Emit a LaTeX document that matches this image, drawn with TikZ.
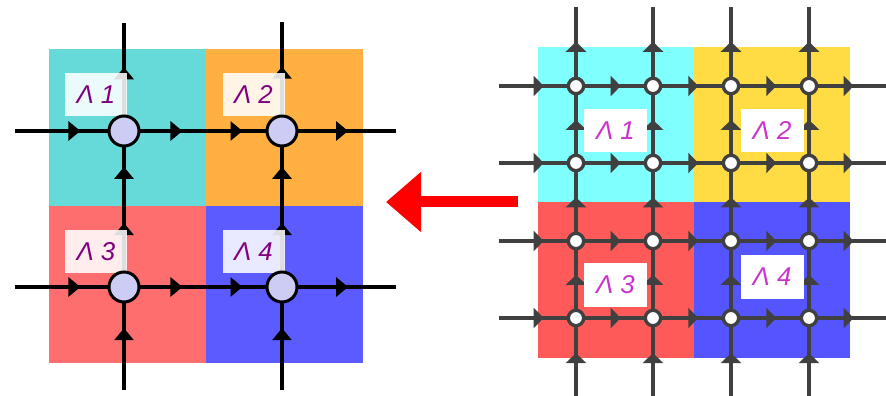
\documentclass[tikz,border=0pt]{standalone}
\usepackage{fontspec}
\setmainfont{Liberation Sans}
\usetikzlibrary{arrows.meta,decorations.markings}

\definecolor{lcyan}{HTML}{66D9D9}
\definecolor{lorange}{HTML}{FFB040}
\definecolor{lred}{HTML}{FF6E6E}
\definecolor{lblue}{HTML}{5B5BFF}
\definecolor{rcyan}{HTML}{80FFFF}
\definecolor{ryellow}{HTML}{FFDB44}
\definecolor{rred}{HTML}{FF5A5A}
\definecolor{rblue}{HTML}{5555FF}
\definecolor{wire}{HTML}{404040}
\definecolor{lampurple}{HTML}{800080}
\definecolor{lammagenta}{HTML}{CC33CC}
\definecolor{sitefill}{HTML}{CCCCF5}

\tikzset{
  tipL/.tip={Triangle[length=3.6mm,width=5.7mm]},
  tipR/.tip={Triangle[length=3mm,width=6mm]},
  flowL/.style={postaction={decorate,decoration={markings,mark=at position #1 with {\arrow{tipL}}}}},
  flowR/.style={postaction={decorate,decoration={markings,mark=at position #1 with {\arrow{tipR}}}}},
  coarse/.style={line width=1.05mm,black},
  fine/.style={line width=1.2mm,wire},
  siteL/.style={circle,draw=black,line width=0.9mm,fill=sitefill,minimum size=9mm,inner sep=0pt},
  siteR/.style={circle,draw=wire,line width=1mm,fill=white,minimum size=4.6mm,inner sep=0pt},
  labL/.style={fill=white,fill opacity=0.87,text opacity=1,text=lampurple,minimum width=18.6mm,minimum height=12.9mm,inner sep=0pt,font=\fontsize{22}{22}\selectfont\itshape},
  labR/.style={fill=white,text=lammagenta,minimum width=18.9mm,minimum height=12.9mm,inner sep=0pt,font=\fontsize{22}{22}\selectfont\itshape}
}

\begin{document}
\begin{tikzpicture}[x=0.3mm,y=-0.3mm]
\useasboundingbox (0,0) rectangle (886,396);

% coarse lattice, one site per block
\fill[lcyan] (49,49) rectangle (206,206);
\fill[lorange] (206,49) rectangle (363,206);
\fill[lred] (49,206) rectangle (206,363);
\fill[lblue] (206,206) rectangle (363,363);

\foreach \n/\x/\y in {1/124/131,2/282/131,3/124/287,4/282/287}
  \coordinate (c\n) at (\x,\y);
\coordinate (w1) at (15,131); \coordinate (e1) at (396,131);
\coordinate (w2) at (15,287); \coordinate (e2) at (396,287);
\coordinate (s1) at (124,390); \coordinate (n1) at (124,23);
\coordinate (s2) at (282,390); \coordinate (n2) at (282,22);

\draw[coarse,flowL=0.6] (w1) -- (c1);
\draw[coarse,flowL=0.37,flowL=0.75] (c1) -- (c2);
\draw[coarse,flowL=0.58] (c2) -- (e1);
\draw[coarse,flowL=0.6] (w2) -- (c3);
\draw[coarse,flowL=0.37,flowL=0.75] (c3) -- (c4);
\draw[coarse,flowL=0.58] (c4) -- (e2);
\draw[coarse,flowL=0.6] (s1) -- (c3);
\draw[coarse,flowL=0.41,flowL=0.77] (c3) -- (c1);
\draw[coarse,flowL=0.59] (c1) -- (n1);
\draw[coarse,flowL=0.6] (s2) -- (c4);
\draw[coarse,flowL=0.41,flowL=0.77] (c4) -- (c2);
\draw[coarse,flowL=0.59] (c2) -- (n2);

\node[labL] (lam1) at (96,94.5) {Λ 1};
\node[labL] (lam2) at (253.5,94.5) {Λ 2};
\node[labL] (lam3) at (96,251.5) {Λ 3};
\node[labL] (lam4) at (253.5,251.5) {Λ 4};

\foreach \n in {1,...,4}
  \node[siteL] (site\n) at (c\n) {};

% fine lattice, 4x4 sites
\fill[rcyan] (538,47) rectangle (694,202);
\fill[ryellow] (694,47) rectangle (850,202);
\fill[rred] (538,202) rectangle (694,358);
\fill[rblue] (694,202) rectangle (850,358);

\foreach \i/\x in {0/576,1/653,2/731,3/809}
  \foreach \j/\y in {0/86,1/163,2/241,3/318}
    \coordinate (g\i\j) at (\x,\y);

\foreach \j/\y in {0/86,1/163,2/241,3/318}{
  \coordinate (gw\j) at (499,\y); \coordinate (ge\j) at (886,\y);
  \draw[fine,flowR=0.58] (gw\j) -- (g0\j);
  \foreach \i [evaluate=\i as \k using int(\i+1)] in {0,1,2}
    \draw[fine,flowR=0.58] (g\i\j) -- (g\k\j);
  \draw[fine,flowR=0.58] (g3\j) -- (ge\j);
}
\foreach \i/\x in {0/576,1/653,2/731,3/809}{
  \coordinate (gs\i) at (\x,396); \coordinate (gn\i) at (\x,7);
  \draw[fine,flowR=0.55] (gs\i) -- (g\i3);
  \foreach \j [evaluate=\j as \k using int(\j+1)] in {0,1,2}
    \draw[fine,flowR=0.56] (g\i\k) -- (g\i\j);
  \draw[fine,flowR=0.56] (g\i0) -- (gn\i);
}

\foreach \i in {0,...,3}
  \foreach \j in {0,...,3}
    \node[siteR] (s\i\j) at (g\i\j) {};

\node[labR] (blk1) at (615.5,130.5) {Λ 1};
\node[labR] (blk2) at (772,130.5) {Λ 2};
\node[labR] (blk3) at (615.5,285) {Λ 3};
\node[labR] (blk4) at (772,277) {Λ 4};

% coarse graining
\coordinate (cgfrom) at (518,202);
\coordinate (cgto) at (386,202);
\draw[red,line width=3.3mm,-{Triangle[length=10.5mm,width=17.4mm]}] (cgfrom) -- (cgto);
\end{tikzpicture}
\end{document}
